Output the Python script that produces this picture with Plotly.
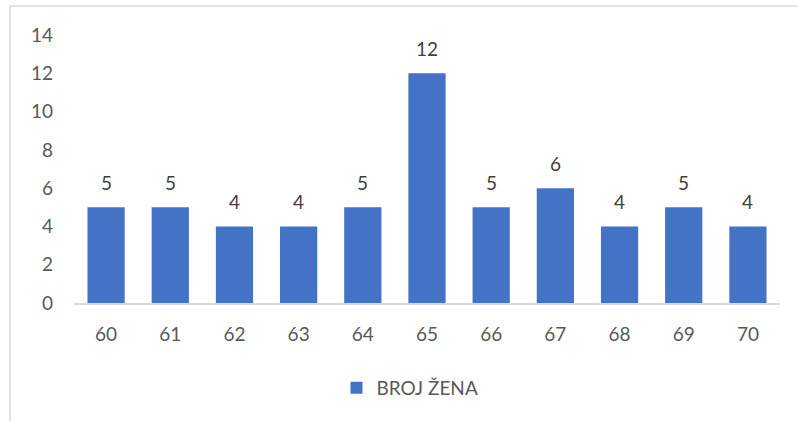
import plotly.graph_objects as go

categories = ["60", "61", "62", "63", "64", "65", "66", "67", "68", "69", "70"]
values = [5, 5, 4, 4, 5, 12, 5, 6, 4, 5, 4]
series_name = "BROJ ŽENA"
y_ticks = [0, 2, 4, 6, 8, 10, 12, 14]

FONT = "Lato, 'Open Sans', sans-serif"
FS = 19

fig = go.Figure()
fig.add_trace(go.Bar(
    x=categories, y=values, name=series_name,
    marker=dict(color="#4472C4", line=dict(width=0)),
    showlegend=True,
))

annotations = [
    dict(x=i, y=v, text=str(v), showarrow=False, xref="x", yref="y",
         yanchor="bottom", yshift=11,
         font=dict(family=FONT, size=FS, color="#404040"))
    for i, v in enumerate(values)
]

W, H = 798, 421
L, R, T, B = 74, 18, 35, 118
pw, ph = W - L - R, H - T - B

def px2paper_x(px):
    return (px - L) / pw

def px2paper_y(py):
    return (H - B - py) / ph

shapes = [
    dict(type="line", xref="paper", yref="paper",
         x0=px2paper_x(10), x1=px2paper_x(10), y0=px2paper_y(6), y1=px2paper_y(440),
         line=dict(color="#d9d9d9", width=1.5)),
    dict(type="line", xref="paper", yref="paper",
         x0=px2paper_x(10), x1=px2paper_x(820), y0=px2paper_y(6), y1=px2paper_y(6),
         line=dict(color="#d9d9d9", width=1.5)),
]

fig.update_layout(
    width=W, height=H,
    margin=dict(l=L, r=R, t=T, b=B, autoexpand=False),
    paper_bgcolor="white", plot_bgcolor="white",
    bargap=0.42,
    font=dict(family=FONT, size=FS, color="#595959"),
    xaxis=dict(
        type="category", showgrid=False, showline=True, linecolor="#d9d9d9", linewidth=1.5,
        ticks="", tickfont=dict(size=FS, color="#595959"), ticklabelstandoff=13,
        zeroline=False, range=[-0.5, len(categories) - 0.5],
    ),
    yaxis=dict(
        range=[0, 14], tickvals=y_ticks, showgrid=False, showline=False, zeroline=False,
        ticks="", tickfont=dict(size=FS, color="#595959"), ticklabelstandoff=20,
    ),
    legend=dict(orientation="h", x=px2paper_x(410), xanchor="center",
                y=px2paper_y(388), yanchor="middle",
                font=dict(size=FS, color="#595959"), itemwidth=30),
    annotations=annotations,
    shapes=shapes,
)

fig.write_html("out.html", config={"displayModeBar": False},
               post_script="document.body.style.margin='0';document.body.style.overflow='hidden';")
